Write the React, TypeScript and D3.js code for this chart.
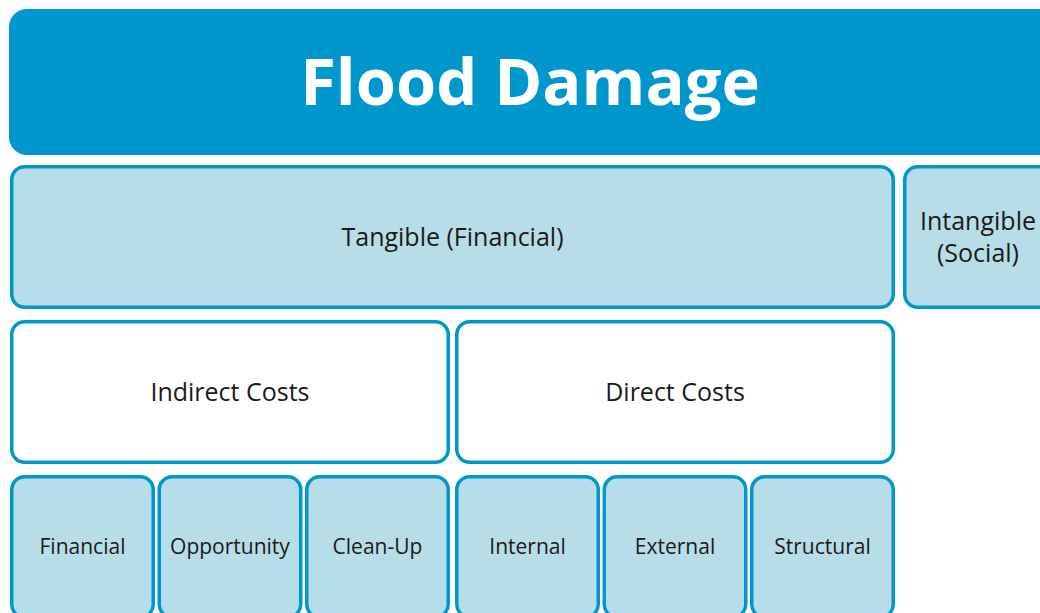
import React from "react";
import * as d3 from "d3";

const title = "Flood Damage";
const level1 = ["Tangible (Financial)", "Intangible (Social)"];
const level2 = ["Indirect Costs", "Direct Costs"];
const indirectItems = ["Financial", "Opportunity", "Clean-Up"];
const directItems = ["Internal", "External", "Structural"];

const W = 1040;
const H = 613;
const DARK = "#0098CC";
const LIGHT = "#B7DDE8";
const STROKE = 3.5;
const FONT = "'Open Sans', 'Noto Sans', sans-serif";

function Box({ x, y, w, h, fill, lines, size, rx = 13 }: any) {
  const s = STROKE;
  const cx = x + w / 2;
  const cy = y + h / 2 - 1;
  const lh = size * 1.26;
  return (
    <g>
      <rect x={x + s / 2} y={y + s / 2} width={w - s} height={h - s} rx={rx} ry={rx}
        fill={fill} stroke={DARK} strokeWidth={s} />
      {lines.map((t: string, i: number) => (
        <text key={i} x={cx} y={cy + (i - (lines.length - 1) / 2) * lh}
          textAnchor="middle" dominantBaseline="central" fontFamily={FONT}
          fontSize={size} fill="#1a1a1a">{t}</text>
      ))}
    </g>
  );
}

export default function App() {
  const left = 10;
  const right = 895;
  const groupScale = d3.scaleBand<string>().domain(level2).range([left, right]).paddingInner(5 / 442);
  const groups: [string, string[]][] = [[level2[0], indirectItems], [level2[1], directItems]];
  const rowY = d3.scaleOrdinal<number, number>().domain([0, 1, 2, 3]).range([9, 165, 320, 475]);
  const rowH = 144;

  return (
    <svg width={W} height={H} style={{ position: "absolute", left: 0, top: 0, background: "#fff" }}>
      <rect x={9} y={rowY(0)} width={1060} height={146} rx={18} ry={18} fill={DARK} />
      <text x={530} y={rowY(0) + 71} textAnchor="middle" dominantBaseline="central"
        fontFamily={FONT} fontWeight={700} fontSize={65} fill="#fff">{title}</text>

      <Box x={left} y={rowY(1)} w={right - left} h={rowH} fill={LIGHT} lines={[level1[0]]} size={25} />
      <Box x={903} y={rowY(1)} w={150} h={rowH} fill={LIGHT} lines={level1[1].split(" ")} size={25} />

      {groups.map(([g, items]) => {
        const gx = groupScale(g)!;
        const gw = groupScale.bandwidth();
        const inner = d3.scaleBand<string>().domain(items).range([gx, gx + gw]).paddingInner(2.5 / 147);
        return (
          <g key={g}>
            <Box x={gx} y={rowY(2)} w={gw} h={rowH} fill="#fff" lines={[g]} size={25} />
            {items.map((it) => (
              <Box key={it} x={inner(it)!} y={rowY(3)} w={inner.bandwidth()} h={rowH} fill={LIGHT}
                lines={[it]} size={21} />
            ))}
          </g>
        );
      })}
    </svg>
  );
}
